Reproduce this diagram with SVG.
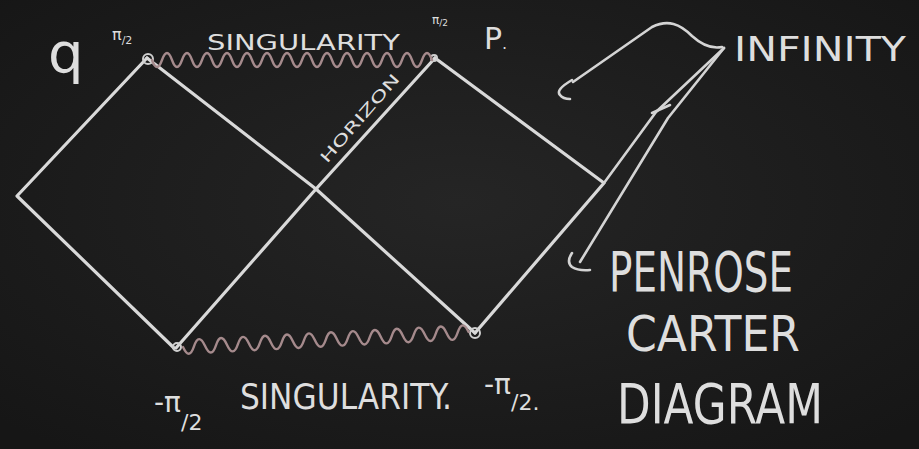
<svg xmlns="http://www.w3.org/2000/svg" width="919" height="449" viewBox="0 0 919 449">
<defs>
<radialGradient id="bg" cx="50%" cy="45%" r="70%">
<stop offset="0" stop-color="#252525"/>
<stop offset="1" stop-color="#161616"/>
</radialGradient>
<style>
.chalk{fill:none;stroke:#d9d9d9;stroke-width:3.2;stroke-linecap:round;stroke-linejoin:round}
.thin{fill:none;stroke:#d4d4d4;stroke-width:2.6;stroke-linecap:round;stroke-linejoin:round}
.wave{fill:none;stroke:#a58a8c;stroke-width:2.4;stroke-linecap:round}
.knot{fill:none;stroke:#cfcfcf;stroke-width:2}
.t{fill:#dedede;font-family:"DejaVu Sans","Liberation Sans",sans-serif}
</style>
</defs>
<rect width="919" height="449" fill="url(#bg)"/>

<g id="penrose-diagram">
<g id="left-region">
<polyline class="chalk" points="147,58 17,196 174,348"/>
</g>
<g id="right-region">
<polyline class="chalk" points="435,58 604,183 475,333"/>
</g>
<g id="horizons">
<polyline class="chalk" points="147,58 316,189 475,333"/>
<polyline class="chalk" points="176,348 316,189 435,58"/>
</g>
<g id="vertices">
<circle class="knot" cx="148" cy="59" r="5"/>
<circle class="knot" cx="434" cy="58" r="3"/>
<circle class="knot" cx="177" cy="347" r="4"/>
<circle class="knot" cx="475" cy="333" r="5"/>
</g>
<g id="singularity-top">
<path class="wave" d="M152,60 q5,14 10,0 t10,0 t10,0 t10,0 t10,0 t10,0 t10,0 t10,0 t10,0 t10,0 t10,0 t10,0 t10,0 t10,0 t10,0 t10,0 t10,0 t10,0 t10,0 t10,0 t10,0 t10,0 t10,0 t10,0 t10,0 t10,0 t10,0 t10,0"/>
</g>
<g id="singularity-bottom">
<path class="wave" transform="rotate(-3 183 347)" d="M183,347 q5.5,14 11,0 t11,0 t11,0 t11,0 t11,0 t11,0 t11,0 t11,0 t11,0 t11,0 t11,0 t11,0 t11,0 t11,0 t11,0 t11,0 t11,0 t11,0 t11,0 t11,0 t11,0 t11,0 t11,0 t11,0 t11,0 t11,0"/>
</g>
</g>

<g id="connectors">
<path class="thin" d="M722,47 C712,49 703,46 692,36 C680,24 668,19 652,27 L573,82"/>
<path class="thin" d="M572,80 Q555,90 560,95 Q563,99 570,99"/>
<path class="thin" d="M604,183 L656,112 L724,48"/>
<path class="thin" d="M652,113 L670,105"/>
<path class="thin" d="M724,48 L668,118 Q630,180 580,262"/>
<path class="thin" d="M572,253 Q566,262 572,267 Q578,271 590,270"/>
</g>

<g id="labels">
<text class="t" x="48" y="72" font-size="56">q</text>
<text class="t" x="112" y="40" font-size="16">π<tspan font-size="11" dy="4">/2</tspan></text>
<text class="t" x="207" y="50" font-size="22" textLength="193" lengthAdjust="spacingAndGlyphs">SINGULARITY</text>
<text class="t" x="432" y="24" font-size="12">π<tspan font-size="9" dy="2">/2</tspan></text>
<text class="t" x="484" y="49" font-size="30">P<tspan font-size="16">.</tspan></text>
<text class="t" font-size="15" textLength="112" lengthAdjust="spacingAndGlyphs" transform="translate(327,164) rotate(-49)">HORIZON</text>
<text class="t" x="734" y="61" font-size="34" textLength="172" lengthAdjust="spacingAndGlyphs">INFINITY</text>
<text class="t" x="609" y="291" font-size="56" textLength="184" lengthAdjust="spacingAndGlyphs">PENROSE</text>
<text class="t" x="626" y="351" font-size="50" textLength="174" lengthAdjust="spacingAndGlyphs">CARTER</text>
<text class="t" x="617" y="423" font-size="56" textLength="206" lengthAdjust="spacingAndGlyphs">DIAGRAM</text>
<text class="t" x="154" y="412" font-size="28">-π<tspan font-size="22" dy="18">/2</tspan></text>
<text class="t" x="240" y="409" font-size="36" textLength="212" lengthAdjust="spacingAndGlyphs">SINGULARITY.</text>
<text class="t" x="484" y="394" font-size="28">-π<tspan font-size="22" dy="16">/2.</tspan></text>
</g>
</svg>
